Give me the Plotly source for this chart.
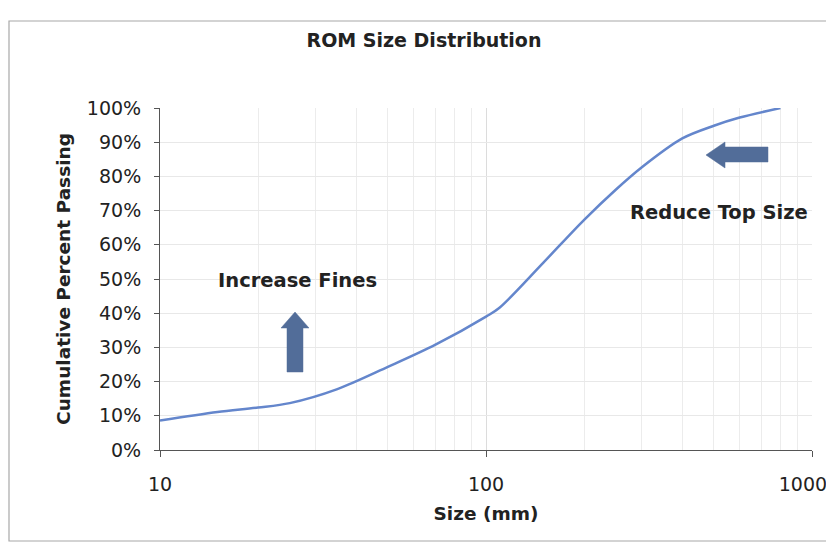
import plotly.graph_objects as go

# Data
size_mm = [10, 15, 20, 25, 35, 50, 70, 100, 110, 150, 200, 250, 300, 400, 500, 600, 800]
pct_passing = [0.086, 0.111, 0.124, 0.137, 0.178, 0.243, 0.308, 0.390, 0.416, 0.548, 0.673,
               0.761, 0.826, 0.911, 0.948, 0.972, 1.000]

x_ticks = [10, 100, 1000]
x_ticktext = ["10", "100", "1000\u00a0\u00a0\u00a0"]
x_minor = [20, 30, 40, 50, 60, 70, 80, 90, 200, 300, 400, 500, 600, 700, 800, 900]
y_ticks = [i / 10 for i in range(11)]
y_ticktext = [f"{i*10}%" for i in range(11)]

FONT = "DejaVu Sans"
TXT = "#222222"

# page offset of the default HTML body margin
OFF = 8
# plot area in page pixels
L, R, T, B = 160, 812, 108, 450
PW, PH = 834, 548
W, H = PW - OFF, PH - OFF


def p(x, y):
    return (x - L) / (R - L), (B - y) / (B - T)


def path(points):
    s = ""
    for i, (x, y) in enumerate(points):
        px_, py_ = p(x, y)
        s += ("M" if i == 0 else "L") + f"{px_:.4f},{py_:.4f} "
    return s + "Z"


up_arrow = [(295, 312), (309, 328), (303, 328), (303, 372), (287, 372), (287, 328), (281, 328)]
left_arrow = [(706, 155), (725, 142), (725, 147), (768, 147), (768, 162), (725, 162), (725, 168)]

fig = go.Figure()
fig.add_trace(go.Scatter(
    x=size_mm, y=pct_passing, mode="lines",
    line=dict(color="#6486cc", width=2.5, shape="spline", smoothing=0.9),
    showlegend=False, cliponaxis=False,
))

bx0, by0 = p(9, 21)
bx1, by1 = p(840, 541)
fig.add_shape(type="rect", xref="paper", yref="paper", x0=bx0, y0=by1, x1=bx1, y1=by0,
              line=dict(color="#a8a8a8", width=1.2), layer="below")
for pts in (up_arrow, left_arrow):
    fig.add_shape(type="path", xref="paper", yref="paper", path=path(pts),
                  fillcolor="#526d99", line=dict(color="#526d99", width=0.5))

ix, iy = p(297, 280)
fig.add_annotation(x=ix, y=iy, xref="paper", yref="paper", text="<b>Increase Fines</b>",
                   xanchor="center", yanchor="middle",
                   showarrow=False, font=dict(family=FONT, size=19.5, color=TXT))
rx, ry = p(719, 212)
fig.add_annotation(x=rx, y=ry, xref="paper", yref="paper", text="<b>Reduce Top Size</b>",
                   xanchor="center", yanchor="middle",
                   showarrow=False, font=dict(family=FONT, size=19.5, color=TXT))

fig.update_layout(
    width=W, height=H,
    margin=dict(l=L - OFF, r=PW - R, t=T - OFF, b=PH - B, autoexpand=False),
    paper_bgcolor="white", plot_bgcolor="white",
    font=dict(family=FONT, color=TXT),
    title=dict(text="<b>ROM Size Distribution</b>", x=(424 - OFF) / W, xanchor="center",
               y=1 - (40 - OFF) / H, yanchor="middle", yref="container",
               font=dict(family=FONT, size=19, color=TXT)),
    xaxis=dict(
        type="log", range=[1, 3], tickvals=x_ticks, ticktext=x_ticktext,
        showgrid=True, gridcolor="#dcdcdc", gridwidth=1,
        minor=dict(tickvals=x_minor, showgrid=True, gridcolor="#ececec", ticks=""),
        showline=True, linecolor="#555555", linewidth=1,
        ticks="outside", ticklen=6, tickcolor="#555555",
        tickfont=dict(family=FONT, size=19, color=TXT), ticklabelstandoff=11,
        ticklabeloverflow="allow",
        title=dict(text="<b>Size (mm)</b>", font=dict(family=FONT, size=18.5, color=TXT), standoff=13),
        zeroline=False, automargin=False,
    ),
    yaxis=dict(
        range=[0, 1], tickvals=y_ticks, ticktext=y_ticktext,
        showgrid=True, gridcolor="#e8e8e8", gridwidth=1,
        showline=True, linecolor="#555555", linewidth=1,
        ticks="outside", ticklen=5, tickcolor="#555555",
        tickfont=dict(family=FONT, size=19, color=TXT), ticklabelstandoff=9,
        title=dict(text="<b>Cumulative Percent Passing</b>", font=dict(family=FONT, size=18.5, color=TXT), standoff=11),
        zeroline=False, automargin=False,
    ),
)

fig.write_html("out.html")
